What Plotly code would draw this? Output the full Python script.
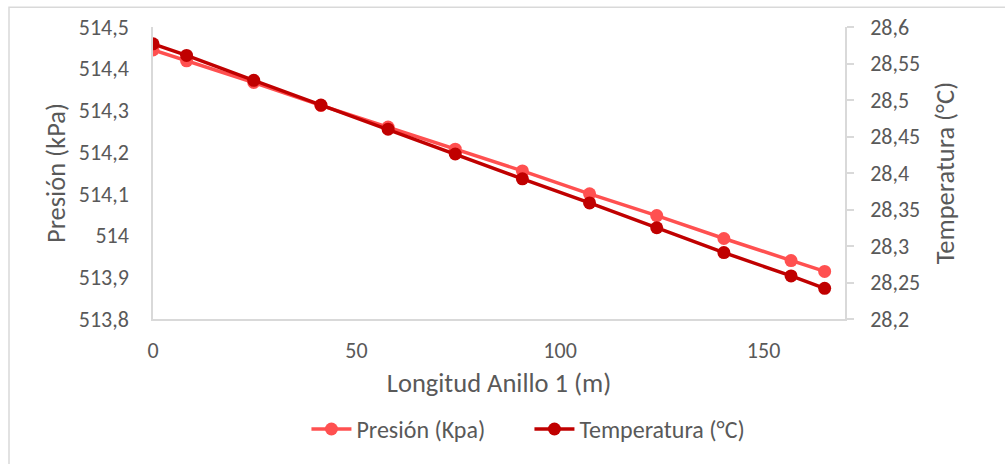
import plotly.graph_objects as go

# Distance along ring 1 (m)
longitud = [0, 8.25, 24.75, 41.25, 57.75, 74.25, 90.75, 107.25, 123.75, 140.25, 156.75, 165]

# Pressure (kPa) at each position
presion = [514.445, 514.419, 514.367, 514.312, 514.260, 514.207,
           514.155, 514.100, 514.048, 513.993, 513.940, 513.914]

# Temperature (°C) at each position
temperatura = [28.577, 28.561, 28.527, 28.493, 28.460, 28.426,
               28.392, 28.359, 28.325, 28.291, 28.259, 28.242]

# Axis tick values and labels (comma decimal separator)
p_ticks = [513.8, 513.9, 514.0, 514.1, 514.2, 514.3, 514.4, 514.5]
p_labels = ["513,8", "513,9", "514", "514,1", "514,2", "514,3", "514,4", "514,5"]
t_ticks = [28.2, 28.25, 28.3, 28.35, 28.4, 28.45, 28.5, 28.55, 28.6]
t_labels = ["28,2", "28,25", "28,3", "28,35", "28,4", "28,45", "28,5", "28,55", "28,6"]
x_ticks = [0, 50, 100, 150]

FONT = "Calibri, Carlito, Lato, sans-serif"
TEXT = "#595959"
AXIS = "#D9D9D9"
TICK_SIZE = 22
TITLE_SIZE = 26.5
LEGEND_SIZE = 24

fig = go.Figure()
fig.add_trace(go.Scatter(
    x=longitud, y=presion, name="Presión (Kpa)", mode="lines+markers",
    line=dict(color="#FF5050", width=3.5),
    marker=dict(color="#FF5050", size=13),
    yaxis="y",
))
fig.add_trace(go.Scatter(
    x=longitud, y=temperatura, name="Temperatura (°C)", mode="lines+markers",
    line=dict(color="#C00000", width=3.5),
    marker=dict(color="#C00000", size=13),
    yaxis="y2",
))

fig.update_layout(
    width=1005, height=464,
    margin=dict(l=153, r=160, t=27, b=143),
    paper_bgcolor="white", plot_bgcolor="white",
    font=dict(family=FONT, size=TICK_SIZE, color=TEXT),
    showlegend=True,
    legend=dict(orientation="h", x=0.544, xanchor="center", y=-0.378, yanchor="middle",
                font=dict(size=LEGEND_SIZE, color=TEXT), itemwidth=40,
                entrywidth=168, entrywidthmode="pixels"),
    xaxis=dict(
        range=[0, 170], tickvals=x_ticks, ticks="", showgrid=False, zeroline=False,
        showline=True, linecolor=AXIS, linewidth=1.5,
        tickfont=dict(size=TICK_SIZE, color=TEXT), ticklabelstandoff=11,
        title=dict(text="Longitud Anillo 1 (m)", font=dict(size=TITLE_SIZE, color=TEXT), standoff=10),
    ),
    yaxis=dict(
        range=[513.8, 514.5], tickvals=p_ticks, ticktext=p_labels, ticks="",
        showgrid=False, zeroline=False, showline=True, linecolor=AXIS, linewidth=1.5,
        tickfont=dict(size=TICK_SIZE, color=TEXT), ticklabelstandoff=18,
        title=dict(text="Presión (kPa)", font=dict(size=TITLE_SIZE, color=TEXT), standoff=5),
    ),
    yaxis2=dict(
        range=[28.2, 28.6], tickvals=t_ticks, ticktext=t_labels, overlaying="y", side="right",
        ticks="outside", ticklen=7, tickcolor=AXIS, tickwidth=1.5,
        showgrid=False, zeroline=False, showline=True, linecolor=AXIS, linewidth=1.5,
        tickfont=dict(size=TICK_SIZE, color=TEXT), ticklabelstandoff=12,
        title=dict(text="Temperatura (°C)", font=dict(size=TITLE_SIZE, color=TEXT), standoff=16),
    ),
    shapes=[dict(type="rect", xref="paper", yref="paper",
                 x0=(9 - 153) / 692, x1=(1012 - 153) / 692,
                 y0=(321 - 470) / 294, y1=(321 - 7) / 294,
                 line=dict(color=AXIS, width=1.5), fillcolor="rgba(0,0,0,0)", layer="below")],
)

fig.write_html("out.html")
